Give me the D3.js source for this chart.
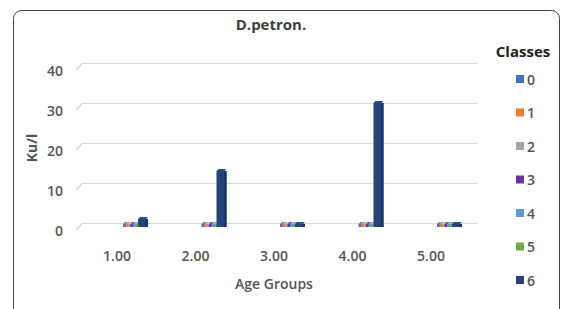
<!DOCTYPE html>
<html><head><meta charset="utf-8">
<script src="https://cdn.jsdelivr.net/npm/d3@7"></script>
<style>
html,body{margin:0;padding:0;background:#fff;}
svg{display:block;}
text{font-family:"Open Sans","Liberation Sans",Arial,sans-serif;}
</style></head>
<body>
<svg id="chart" width="563" height="309"></svg>
<script>
const title = "D.petron.";
const categories = ["1.00", "2.00", "3.00", "4.00", "5.00"];
const seriesNames = ["0", "1", "2", "3", "4", "5", "6"];
const seriesColors = ["#4472C4", "#ED7D31", "#A5A5A5", "#7030A0", "#5B9BD5", "#70AD47", "#234379"];
// values[series][category]
const values = [
  [0, 0, 0, 0, 0],
  [0, 0, 0, 0, 0],
  [0, 0, 0, 0, 0],
  [0, 0, 0, 0, 0],
  [0, 0, 0, 0, 0],
  [0, 0, 0, 0, 0],
  [2, 14, 0, 31, 0]
];
const yTicks = [0, 10, 20, 30, 40];
const yTitle = "Ku/l";
const xTitle = "Age Groups";
const legendTitle = "Classes";

const svg = d3.select("#chart");
const textColor = "#555";

// frame
svg.append("rect").attr("x", 13.5).attr("y", 10.5).attr("width", 546).attr("height", 310)
  .attr("rx", 8).attr("fill", "#fff").attr("stroke", "#444").attr("stroke-width", 1);

// scales
const yGrid = d3.scaleLinear().domain([0, 40]).range([223, 63]);
const yFront = d3.scaleLinear().domain([0, 40]).range([227, 67]);
const x = d3.scaleBand().domain(categories).range([77.75, 470.25]);
const sub = d3.scalePoint().domain(seriesNames).range([6, 21]);
const barW = 10;

// gridlines (back wall + floor edge)
const grid = svg.append("g");
yTicks.forEach(t => {
  const yy = Math.round(yGrid(t)) + 0.5;
  grid.append("line").attr("x1", 82).attr("x2", 478).attr("y1", yy).attr("y2", yy)
    .attr("stroke", "#d9d9d9").attr("stroke-width", 1.2);
  grid.append("line").attr("x1", 76).attr("x2", 82).attr("y1", yy + 7).attr("y2", yy)
    .attr("stroke", "#d9d9d9").attr("stroke-width", 1.2);
});

// y tick labels
svg.append("g").selectAll("text").data(yTicks).join("text")
  .attr("x", 63).attr("y", d => yGrid(d) + 7)
  .attr("text-anchor", "end").attr("dominant-baseline", "central")
  .attr("font-size", 14).attr("font-weight", 600).attr("fill", textColor).text(d => d);

// x tick labels
svg.append("g").selectAll("text").data(categories).join("text")
  .attr("x", d => x(d) + x.bandwidth() / 2).attr("y", 255)
  .attr("text-anchor", "middle").attr("dominant-baseline", "central")
  .attr("font-size", 14).attr("font-weight", 600).attr("fill", textColor).text(d => d);

// bars
const bars = svg.append("g");
seriesNames.forEach((s, si) => {
  const col = seriesColors[si];
  const g = bars.append("g");
  categories.forEach((c, ci) => {
    const v = values[si][ci];
    const cx = x(c) + x.bandwidth() / 2;
    const x0 = cx + sub(s);
    const top = yFront(v);
    const h = Math.max(3, yFront(0) - top);
    const y0 = yFront(0) - h;
    g.append("rect").attr("x", x0).attr("y", y0).attr("width", barW).attr("height", h)
      .attr("fill", col);
    g.append("rect").attr("x", x0 + barW - 2.5).attr("y", y0).attr("width", 2.5).attr("height", h)
      .attr("fill", d3.color(col).darker(0.6));
    g.append("path")
      .attr("d", `M${x0},${y0} L${x0 + 2},${y0 - 2} L${x0 + barW},${y0 - 2} L${x0 + barW - 2},${y0} Z`)
      .attr("fill", d3.color(col).brighter(0.5));
  });
});

// titles
svg.append("text").attr("x", 271).attr("y", 24).attr("text-anchor", "middle")
  .attr("dominant-baseline", "central").attr("font-size", 15).attr("font-weight", "bold")
  .attr("fill", "#404040").text(title);

svg.append("text").attr("transform", "translate(31,148) rotate(-90)")
  .attr("text-anchor", "middle").attr("dominant-baseline", "central")
  .attr("font-size", 14).attr("font-weight", "bold").attr("fill", textColor).text(yTitle);

svg.append("text").attr("x", 274).attr("y", 283).attr("text-anchor", "middle")
  .attr("dominant-baseline", "central").attr("font-size", 14).attr("font-weight", 600)
  .attr("fill", textColor).text(xTitle);

// legend
const lg = svg.append("g");
lg.append("text").attr("x", 523).attr("y", 51).attr("text-anchor", "middle")
  .attr("dominant-baseline", "central").attr("font-size", 15).attr("font-weight", "bold")
  .attr("fill", "#222").text(legendTitle);
const ly = d3.scalePoint().domain(seriesNames).range([79, 280]);
seriesNames.forEach((s, i) => {
  lg.append("rect").attr("x", 516).attr("y", ly(s) - 4).attr("width", 8).attr("height", 8)
    .attr("fill", seriesColors[i]);
  lg.append("text").attr("x", 527).attr("y", ly(s)).attr("dominant-baseline", "central")
    .attr("font-size", 14).attr("font-weight", 600).attr("fill", textColor).text(s);
});
</script>
</body></html>
